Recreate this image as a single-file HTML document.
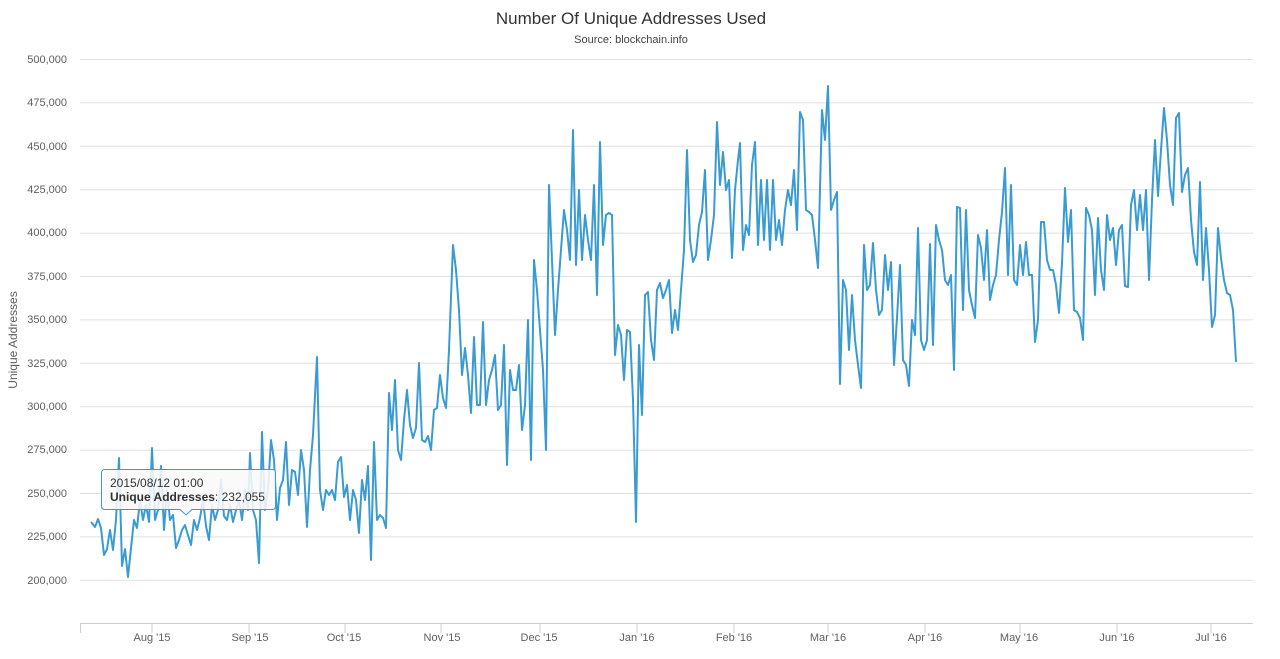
<!DOCTYPE html>
<html><head><style>
body{margin:0;background:#fff;font-family:"Liberation Sans",sans-serif;}
svg text{font-family:"Liberation Sans",sans-serif;}
</style></head><body>
<svg width="1280" height="654" xmlns="http://www.w3.org/2000/svg">
<rect width="1280" height="654" fill="#fff"/>
<text x="631" y="24" text-anchor="middle" font-size="17" fill="#333">Number Of Unique Addresses Used</text>
<text x="631" y="43" text-anchor="middle" font-size="11" fill="#444">Source: blockchain.info</text>
<g stroke="#e0e0e0" stroke-width="1">
<line x1="80" x2="1253" y1="59.5" y2="59.5"/><line x1="80" x2="1253" y1="102.9" y2="102.9"/>
<line x1="80" x2="1253" y1="146.3" y2="146.3"/><line x1="80" x2="1253" y1="189.7" y2="189.7"/>
<line x1="80" x2="1253" y1="233.1" y2="233.1"/><line x1="80" x2="1253" y1="276.5" y2="276.5"/>
<line x1="80" x2="1253" y1="319.9" y2="319.9"/><line x1="80" x2="1253" y1="363.3" y2="363.3"/>
<line x1="80" x2="1253" y1="406.7" y2="406.7"/><line x1="80" x2="1253" y1="450.1" y2="450.1"/>
<line x1="80" x2="1253" y1="493.5" y2="493.5"/><line x1="80" x2="1253" y1="536.9" y2="536.9"/>
<line x1="80" x2="1253" y1="580.3" y2="580.3"/>
</g>
<line x1="80" x2="1253" y1="623.5" y2="623.5" stroke="#c0d0e0"/>
<g stroke="#c0d0e0">
<line x1="80.5" x2="80.5" y1="623" y2="633"/><line x1="152" x2="152" y1="623" y2="633"/><line x1="249" x2="249" y1="623" y2="633"/><line x1="345" x2="345" y1="623" y2="633"/><line x1="441" x2="441" y1="623" y2="633"/><line x1="540" x2="540" y1="623" y2="633"/><line x1="637" x2="637" y1="623" y2="633"/><line x1="734" x2="734" y1="623" y2="633"/><line x1="828" x2="828" y1="623" y2="633"/><line x1="925" x2="925" y1="623" y2="633"/><line x1="1020" x2="1020" y1="623" y2="633"/><line x1="1117" x2="1117" y1="623" y2="633"/><line x1="1211" x2="1211" y1="623" y2="633"/>
</g>
<g font-size="11" fill="#606060" text-anchor="end">
<text x="67" y="63">500,000</text><text x="67" y="106">475,000</text><text x="67" y="150">450,000</text>
<text x="67" y="193">425,000</text><text x="67" y="236">400,000</text><text x="67" y="280">375,000</text>
<text x="67" y="323">350,000</text><text x="67" y="367">325,000</text><text x="67" y="410">300,000</text>
<text x="67" y="453">275,000</text><text x="67" y="497">250,000</text><text x="67" y="540">225,000</text>
<text x="67" y="584">200,000</text>
</g>
<g font-size="11" fill="#606060" text-anchor="middle">
<text x="152" y="641">Aug '15</text><text x="250" y="641">Sep '15</text><text x="344" y="641">Oct '15</text>
<text x="442" y="641">Nov '15</text><text x="539" y="641">Dec '15</text><text x="637" y="641">Jan '16</text>
<text x="734" y="641">Feb '16</text><text x="828" y="641">Mar '16</text><text x="925" y="641">Apr '16</text>
<text x="1019" y="641">May '16</text><text x="1117" y="641">Jun '16</text><text x="1211" y="641">Jul '16</text>
</g>
<text transform="translate(17,340) rotate(-90)" text-anchor="middle" font-size="12" fill="#606060">Unique Addresses</text>
<polyline fill="none" stroke="#3a9bd2" stroke-width="2" stroke-linejoin="round" points="
91,522 95,527 98,519 101,528 104,555 107,549 110,530 113,550 116,520 119,458 122,566 125,549 128,577 131,548 134,520 137,528 140,500 143,520 146,505 149,522 152,448 155,520 158,510 161,466 164,530 167,490 170,520 173,515 176,548 179,540 182,530 185,525 188,535 191,545 194,520 197,530 200,518 203,500 206,526 209,540 212,505 215,520 218,510 221,480 224,516 227,520 230,505 233,522 236,510 239,500 242,520 245,490 248,510 250,453 253,510 256,520 259,563 262,432 265,510 268,490 271,440 274,460 277,520 280,488 283,480 286,442 289,505 292,470 295,472 298,495 301,450 304,470 307,527 310,470 313,435 317,357 320,490 323,510 326,490 329,495 332,490 335,500 338,462 341,457 344,497 347,485 350,520 353,490 356,500 359,533 362,480 365,500 368,466 371,560 374,442 377,520 380,515 383,518 386,528 389,393 392,430 395,380 398,450 401,460 404,420 407,390 410,425 413,438 416,428 419,363 422,440 425,442 428,436 431,450 434,410 437,408 440,375 443,398 446,408 449,350 453,245 456,270 459,310 462,375 465,348 468,375 471,413 474,337 477,405 480,405 483,322 486,405 489,380 492,370 495,355 498,410 501,405 504,345 507,465 510,370 513,390 516,390 519,365 522,430 525,405 528,320 531,460 534,260 537,290 540,330 543,370 546,450 549,185 552,260 555,335 558,290 561,250 564,210 567,230 570,260 573,130 576,265 579,190 582,260 585,215 588,240 591,260 594,185 597,295 600,142 603,245 606,215 609,213 612,215 615,355 618,325 621,335 624,380 627,330 630,332 633,400 636,522 639,345 642,415 645,295 648,292 651,340 654,360 657,290 660,283 663,298 666,290 669,280 672,333 675,310 678,330 681,290 684,250 687,150 690,240 693,262 696,255 699,225 702,212 705,170 708,260 711,240 714,215 717,122 720,185 723,152 726,190 729,180 732,258 735,190 738,160 740,143 743,250 746,225 749,235 752,165 755,142 758,245 761,180 764,240 767,180 770,250 773,180 776,240 779,220 782,245 785,210 788,190 791,205 794,170 797,230 800,112 803,120 806,210 809,212 812,215 815,240 818,268 822,110 825,140 828,86 831,210 834,200 837,192 840,384 843,280 846,290 849,350 852,295 855,340 858,365 861,388 864,245 867,290 870,285 873,243 876,290 879,315 882,310 885,255 888,290 891,262 894,365 897,318 900,265 903,360 906,365 909,386 912,320 915,335 918,228 921,340 924,350 927,340 930,244 933,345 936,225 939,240 942,250 945,280 948,285 951,275 954,370 957,207 960,208 963,310 966,210 969,290 972,305 975,318 978,235 981,248 984,280 987,230 990,300 993,285 996,275 999,240 1002,212 1005,168 1008,275 1011,185 1014,280 1017,285 1020,245 1023,275 1026,242 1029,275 1032,275 1035,342 1038,320 1041,222 1044,222 1047,260 1050,270 1053,270 1056,285 1059,313 1062,263 1065,188 1068,242 1071,210 1074,310 1077,312 1080,318 1083,340 1086,208 1089,215 1092,230 1095,295 1098,218 1101,270 1104,290 1107,215 1110,240 1113,228 1116,265 1119,230 1122,225 1125,286 1128,287 1131,205 1134,190 1137,230 1140,195 1143,230 1146,190 1149,280 1152,200 1155,140 1158,196 1161,150 1164,108 1167,140 1170,185 1173,205 1176,118 1179,113 1182,192 1185,175 1188,168 1191,220 1194,252 1197,265 1200,182 1203,280 1206,228 1209,270 1212,327 1215,315 1218,228 1221,258 1224,280 1227,293 1230,295 1233,310 1236,362"/>
<g>
<path d="M104.5,469.5 H272.5 a3,3 0 0 1 3,3 V506.5 a3,3 0 0 1 -3,3 H192 L186,515 L180,509.5 H104.5 a3,3 0 0 1 -3,-3 V472.5 a3,3 0 0 1 3,-3 Z" fill="rgba(249,249,249,0.88)" stroke="#3a9bd2" stroke-width="1"/>
<text x="110" y="487" font-size="12" fill="#333">2015/08/12 01:00</text>
<text x="110" y="501" font-size="12" fill="#333"><tspan font-weight="bold">Unique Addresses</tspan>: 232,055</text>
</g>
</svg>
</body></html>
